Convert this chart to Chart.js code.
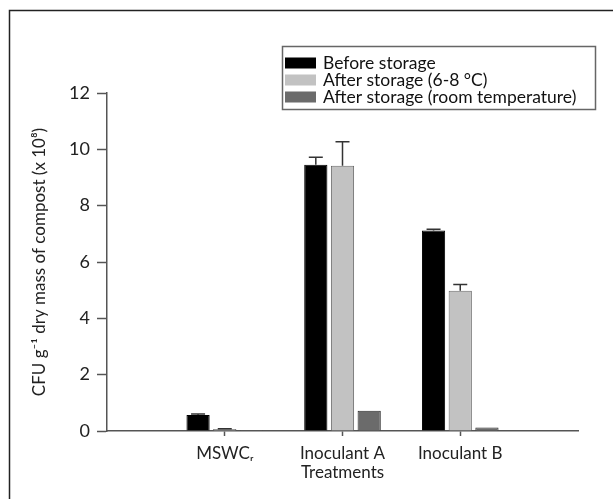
<!DOCTYPE html>
<html>
<head>
<meta charset="utf-8">
<script src="https://cdn.jsdelivr.net/npm/chart.js@4/dist/chart.umd.min.js"></script>
<style>
  html, body { margin: 0; padding: 0; background: #fff; }
  #wrap { position: relative; width: 613px; height: 499px; }
  canvas { display: block; }
</style>
</head>
<body>
<div id="wrap"><canvas id="c" width="613" height="499"></canvas></div>
<script>
// ---- data ----
const categories = ['MSWC\u1D63', 'Inoculant A', 'Inoculant B'];
const seriesNames = ['Before storage', 'After storage (6-8 \u00B0C)', 'After storage (room temperature)'];
const beforeStorage = [0.57, 9.45, 7.12];
const beforeStorageErr = [0.03, 0.27, 0.04];
const afterCold = [0.07, 9.42, 4.98];
const afterColdErr = [0.01, 0.85, 0.22];
const afterRoom = [0.03, 0.72, 0.12];
const afterRoomErr = [0.0, 0.0, 0.0];
const yTicks = [0, 2, 4, 6, 8, 10, 12];
const yTitle = 'CFU g\u207B\u00B9 dry mass of compost (x 10\u2078)';
const xTitle = 'Treatments';

// pad with empty slots so axis extends one category each side
const labels = [''].concat(categories, ['']);
const pad = a => [null].concat(a, [null]);

const FONT = "Lato, 'Open Sans', 'DejaVu Sans', sans-serif";

const frame = {
  id: 'frame',
  beforeDraw(chart) {
    const ctx = chart.ctx;
    ctx.save();
    ctx.fillStyle = '#fff';
    ctx.fillRect(0, 0, chart.width, chart.height);
    ctx.strokeStyle = '#222';
    ctx.lineWidth = 1.5;
    ctx.beginPath();
    ctx.moveTo(9.5, chart.height);
    ctx.lineTo(9.5, 10.5);
    ctx.lineTo(chart.width, 10.5);
    ctx.stroke();
    ctx.restore();
  }
};

const errorBars = {
  id: 'errorBars',
  afterDatasetsDraw(chart) {
    const ctx = chart.ctx;
    const y = chart.scales.y;
    ctx.save();
    ctx.strokeStyle = '#333';
    ctx.lineWidth = 1.5;
    chart.data.datasets.forEach((ds, di) => {
      const meta = chart.getDatasetMeta(di);
      meta.data.forEach((bar, i) => {
        const v = ds.data[i];
        const e = ds.err ? ds.err[i] : null;
        if (v == null || e == null || e <= 0) return;
        const x = bar.x;
        const y0 = y.getPixelForValue(v);
        const y1 = y.getPixelForValue(v + e);
        ctx.beginPath();
        ctx.moveTo(x, y0);
        ctx.lineTo(x, y1);
        ctx.moveTo(x - 7, y1);
        ctx.lineTo(x + 7, y1);
        ctx.stroke();
      });
    });
    ctx.restore();
  }
};

const boxLegend = {
  id: 'boxLegend',
  afterDraw(chart) {
    const ctx = chart.ctx;
    ctx.save();
    ctx.strokeStyle = '#666';
    ctx.lineWidth = 1.5;
    ctx.strokeRect(282.5, 46.5, 313, 63);
    ctx.font = '17.5px ' + FONT;
    ctx.textBaseline = 'middle';
    ctx.textAlign = 'left';
    chart.data.datasets.forEach((ds, i) => {
      const cy = 63 + i * 17;
      ctx.fillStyle = ds.backgroundColor;
      ctx.fillRect(285, cy - 5.5, 31, 11);
      ctx.fillStyle = '#111';
      ctx.fillText(ds.label, 323, cy);
    });
    ctx.restore();
  }
};

new Chart(document.getElementById('c'), {
  type: 'bar',
  data: {
    labels: labels,
    datasets: [
      { label: seriesNames[0], data: pad(beforeStorage), err: pad(beforeStorageErr),
        backgroundColor: '#000000', borderColor: '#000000', borderWidth: 1 },
      { label: seriesNames[1], data: pad(afterCold), err: pad(afterColdErr),
        backgroundColor: '#c2c2c2', borderColor: '#6a6a6a', borderWidth: 1 },
      { label: seriesNames[2], data: pad(afterRoom), err: pad(afterRoomErr),
        backgroundColor: '#6b6b6b', borderColor: '#2a2a2a', borderWidth: 1 }
    ]
  },
  options: {
    responsive: false,
    animation: false,
    devicePixelRatio: 1,
    layout: { padding: { left: 0, top: 93, right: 35, bottom: 0 } },
    datasets: { bar: { categoryPercentage: 0.68, barPercentage: 0.87 } },
    plugins: { legend: { display: false }, tooltip: { enabled: false } },
    scales: {
      x: {
        offset: false,
        afterFit(s) { s.height = 68; },
        grid: {
          drawOnChartArea: false,
          tickLength: 5,
          tickWidth: 1.5,
          offset: false,
          tickColor: ctx => (labels[ctx.index] ? '#555' : 'rgba(0,0,0,0)')
        },
        border: { color: '#555', width: 1.5 },
        ticks: {
          autoSkip: false,
          maxRotation: 0,
          padding: 7,
          color: '#222',
          font: { family: FONT, size: 17 }
        },
        title: {
          display: true,
          text: xTitle,
          color: '#222',
          font: { family: FONT, size: 17 },
          padding: { top: 0, bottom: 16 }
        }
      },
      y: {
        min: 0,
        max: 12,
        afterFit(s) { s.width = 107; },
        afterBuildTicks(s) { s.ticks = yTicks.map(v => ({ value: v })); },
        grid: { drawOnChartArea: false, tickLength: 10, tickWidth: 1.5, tickColor: '#555' },
        border: { color: '#555', width: 1.5 },
        ticks: {
          padding: 7,
          color: '#222',
          font: { family: FONT, size: 18 }
        },
        title: {
          display: true,
          text: yTitle,
          color: '#222',
          font: { family: FONT, size: 17 },
          padding: { top: 29, bottom: 0 }
        }
      }
    }
  },
  plugins: [frame, errorBars, boxLegend]
});
</script>
</body>
</html>
